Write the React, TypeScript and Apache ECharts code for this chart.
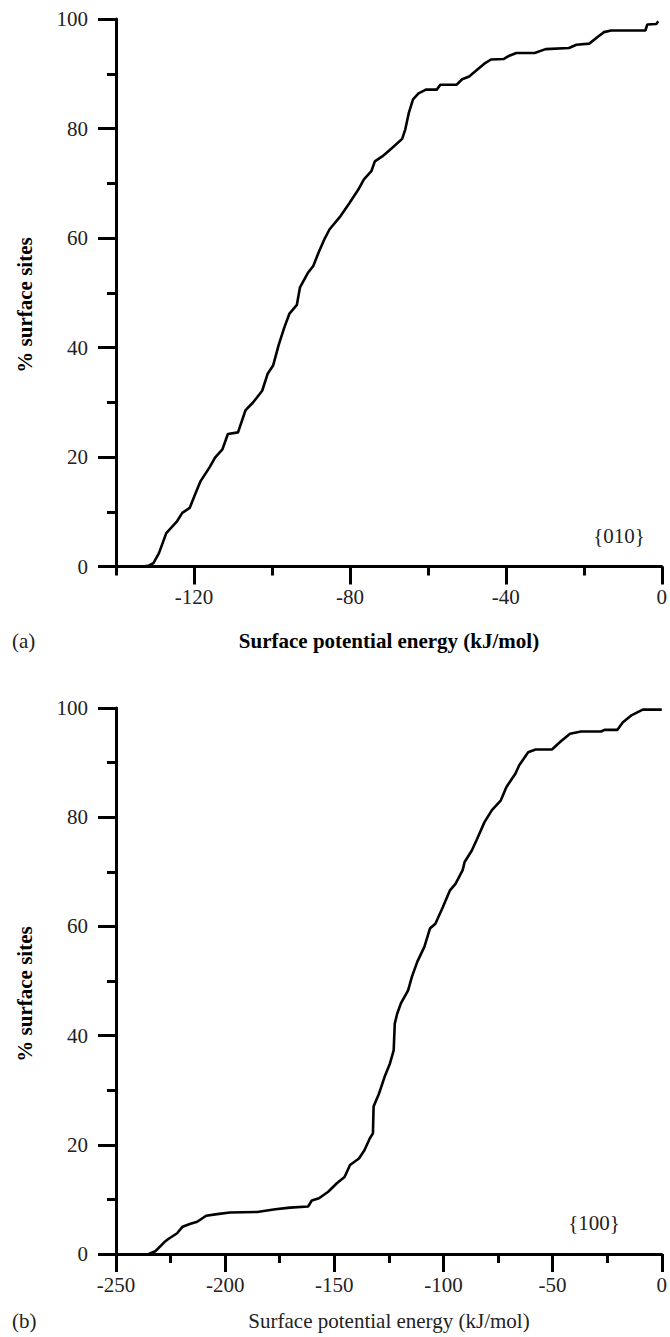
import React, { useEffect, useRef } from "react";
import * as echarts from "echarts";

// Panel (a) {010}
const energyA = [-133, -131.5, -130.4, -129, -127.1, -124.3, -123, -121.1, -119.7, -118.3, -116, -114.6, -112.7, -111.3, -108.7, -106.8, -104.8, -102.5, -101.1, -99.7, -98.3, -96.9, -95.5, -93.6, -92.8, -90.8, -89.4, -88, -86.6, -85.2, -82.4, -80.1, -77.8, -76.4, -74.5, -73.6, -71.7, -69.4, -66.6, -65.8, -64.9, -63.8, -62.4, -60.5, -57.7, -56.8, -52.6, -51.2, -49.4, -47.9, -45.6, -43.8, -40.5, -39.1, -37.3, -32.6, -29.8, -23.8, -21.9, -18.6, -16.3, -14.8, -13, -4.2, -3.7, -1.4, -0.9];
const percentA = [0, 0.2, 0.6, 2.4, 6.1, 8.3, 9.8, 10.7, 13.2, 15.6, 18.1, 19.9, 21.4, 24.2, 24.5, 28.5, 30, 32.1, 35.2, 36.7, 40.4, 43.5, 46.2, 47.8, 51, 53.6, 54.9, 57.4, 59.7, 61.6, 64, 66.4, 68.9, 70.7, 72.2, 74, 74.9, 76.3, 78.1, 79.8, 82.8, 85.3, 86.4, 87.1, 87.1, 88, 88, 89, 89.5, 90.4, 91.8, 92.6, 92.7, 93.3, 93.8, 93.8, 94.5, 94.7, 95.3, 95.5, 96.8, 97.6, 97.9, 97.9, 99, 99.1, 99.6];

// Panel (b) {100}
const energyB = [-235, -232, -229.5, -227.5, -226.2, -222, -219.5, -216.2, -212.8, -208.7, -203.7, -197.8, -185.3, -177, -170.3, -162, -160.3, -157, -152.8, -148.7, -145.3, -142.8, -138.7, -136.2, -133.7, -132.3, -132, -129.5, -127, -124.5, -122.8, -122.3, -121.2, -119.5, -116.2, -114.5, -112, -108.7, -106.2, -103.7, -100.3, -97, -94.5, -91.2, -90.3, -87, -84.5, -81.2, -77.8, -73.7, -71.2, -67, -65.3, -61.2, -57.8, -50.3, -46.2, -42, -37, -27.8, -26.2, -20.3, -17.8, -13.7, -8.7, 0];
const percentB = [0, 0.5, 1.5, 2.3, 2.7, 3.8, 5, 5.5, 5.9, 7, 7.3, 7.6, 7.7, 8.2, 8.5, 8.7, 9.8, 10.2, 11.4, 13, 14.1, 16.3, 17.5, 19, 21.2, 22.1, 27, 29.4, 32.4, 34.9, 37.3, 42.2, 44, 45.9, 48.3, 50.7, 53.5, 56.3, 59.6, 60.5, 63.5, 66.6, 67.8, 70.3, 71.8, 73.9, 76.1, 79.1, 81.3, 83.1, 85.5, 88, 89.5, 91.9, 92.4, 92.4, 93.9, 95.3, 95.7, 95.7, 96, 96, 97.4, 98.7, 99.7, 99.7];

const xMajorA = [-120, -80, -40, 0];
const xMinorA = [-140, -100, -60, -20];

const FONT = "'Liberation Serif', 'DejaVu Serif', serif";
const INK = "#000";
const LABEL = "#222";

export default function App() {
  const ref = useRef<HTMLDivElement>(null);
  useEffect(() => {
    if (!ref.current) return;
    const chart = echarts.init(ref.current, undefined, { renderer: "svg" });
    const line = { lineStyle: { color: INK, width: 3 } };
    const yAxisBase = (gridIndex: number) => ({
      type: "value",
      gridIndex,
      min: 0,
      max: 100,
      interval: 20,
      axisLine: { show: true, onZero: false, ...line },
      axisTick: { show: true, length: 18, ...line },
      minorTick: { show: true, splitNumber: 2, length: 9, ...line },
      splitLine: { show: false },
      minorSplitLine: { show: false },
      axisLabel: { margin: 28, fontFamily: FONT, fontSize: 21, color: LABEL },
    });
    chart.setOption({
      animation: false,
      backgroundColor: "#fff",
      grid: [
        { left: 116, top: 19, right: 7, height: 547.5 },
        { left: 116, top: 708, right: 7, height: 546 },
      ],
      xAxis: [
        {
          type: "value",
          gridIndex: 0,
          position: "bottom",
          min: -140,
          max: 0,
          axisLine: { show: true, onZero: false, ...line },
          axisTick: { show: true, length: 18, customValues: xMajorA, ...line },
          axisLabel: { customValues: xMajorA, margin: 20, fontFamily: FONT, fontSize: 21, color: LABEL },
          splitLine: { show: false },
        },
        {
          type: "value",
          gridIndex: 0,
          position: "bottom",
          offset: 0,
          min: -140,
          max: 0,
          axisLine: { show: false, onZero: false },
          axisTick: { show: true, length: 9, customValues: xMinorA, ...line },
          axisLabel: { show: false },
          splitLine: { show: false },
        },
        {
          type: "value",
          gridIndex: 1,
          position: "bottom",
          min: -250,
          max: 0,
          interval: 50,
          axisLine: { show: true, onZero: false, ...line },
          axisTick: { show: true, length: 18, ...line },
          minorTick: { show: true, splitNumber: 2, length: 9, ...line },
          axisLabel: { margin: 20, fontFamily: FONT, fontSize: 21, color: LABEL },
          splitLine: { show: false },
          minorSplitLine: { show: false },
        },
      ],
      yAxis: [yAxisBase(0), yAxisBase(1)],
      series: [
        {
          type: "line",
          xAxisIndex: 0,
          yAxisIndex: 0,
          data: energyA.map((e, i) => [e, percentA[i]]),
          showSymbol: false,
          lineStyle: { color: INK, width: 2.6 },
        },
        {
          type: "line",
          xAxisIndex: 2,
          yAxisIndex: 1,
          data: energyB.map((e, i) => [e, percentB[i]]),
          showSymbol: false,
          lineStyle: { color: INK, width: 2.6 },
        },
      ],
      graphic: [
        { type: "text", x: 25, y: 305, rotation: Math.PI / 2, style: { text: "% surface sites", fontFamily: FONT, fontSize: 21, fontWeight: "bold", fill: INK, align: "center", verticalAlign: "middle" } },
        { type: "text", x: 25, y: 994, rotation: Math.PI / 2, style: { text: "% surface sites", fontFamily: FONT, fontSize: 21, fontWeight: "bold", fill: INK, align: "center", verticalAlign: "middle" } },
        { type: "text", x: 389, y: 641, style: { text: "Surface potential energy (kJ/mol)", fontFamily: FONT, fontSize: 21, fontWeight: "bold", fill: INK, align: "center", verticalAlign: "middle" } },
        { type: "text", x: 389, y: 1321, style: { text: "Surface potential energy (kJ/mol)", fontFamily: FONT, fontSize: 21, fill: LABEL, align: "center", verticalAlign: "middle" } },
        { type: "text", x: 12, y: 641, style: { text: "(a)", fontFamily: FONT, fontSize: 21, fill: LABEL, align: "left", verticalAlign: "middle" } },
        { type: "text", x: 12, y: 1321, style: { text: "(b)", fontFamily: FONT, fontSize: 21, fill: LABEL, align: "left", verticalAlign: "middle" } },
        { type: "text", x: 619, y: 536, style: { text: "{010}", fontFamily: FONT, fontSize: 21, fill: LABEL, align: "center", verticalAlign: "middle" } },
        { type: "text", x: 594, y: 1223, style: { text: "{100}", fontFamily: FONT, fontSize: 21, fill: LABEL, align: "center", verticalAlign: "middle" } },
      ],
    });
    return () => chart.dispose();
  }, []);
  return (
    <div
      ref={ref}
      style={{ position: "absolute", left: 0, top: 0, width: 670, height: 1337, background: "#fff" }}
    />
  );
}
